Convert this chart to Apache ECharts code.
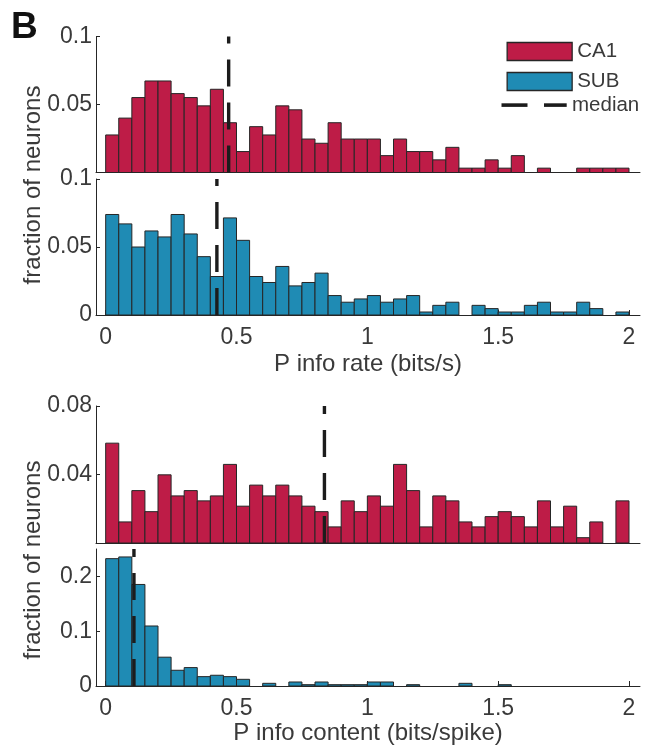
<!DOCTYPE html>
<html>
<head>
<meta charset="utf-8">
<script src="https://cdn.jsdelivr.net/npm/echarts@6/dist/echarts.min.js"></script>
<style>
  html, body { margin: 0; padding: 0; background: #fff; }
  #chart { width: 647px; height: 752px; }
</style>
</head>
<body>
<div id="chart"></div>
<script>
var chart = echarts.init(document.getElementById('chart'));

// histogram bins: 40 bins of 0.05 from 0 to 2
var binStart = 0;
var binWidth = 0.05;

var ca1Rate = [0.0276, 0.040, 0.0551, 0.0673, 0.0673, 0.058, 0.0551, 0.049, 0.0612, 0.0366,
  0.0154, 0.0337, 0.0276, 0.049, 0.0461, 0.0246, 0.0215, 0.0366, 0.0246, 0.0246,
  0.0246, 0.0124, 0.0246, 0.0154, 0.0154, 0.0093, 0.0185, 0.0032, 0.0032, 0.0093,
  0.0032, 0.0124, 0, 0.0032, 0, 0, 0.0032, 0.0032, 0.0032, 0.0032];

var subRate = [0.0739, 0.067, 0.050, 0.0618, 0.0574, 0.0739, 0.0596, 0.0429, 0.0283, 0.0714,
  0.0549, 0.0283, 0.0239, 0.0357, 0.0214, 0.0239, 0.0308, 0.0143, 0.0094, 0.0118,
  0.0143, 0.0094, 0.0118, 0.0143, 0.0022, 0.0071, 0.0094, 0, 0.0071, 0.0047,
  0.0022, 0.0022, 0.0071, 0.0094, 0.0022, 0.0022, 0.0094, 0.0047, 0, 0.0022];

var ca1Content = [0.0583, 0.0123, 0.0306, 0.0183, 0.0398, 0.0275, 0.0306, 0.0246, 0.0275, 0.0459,
  0.0215, 0.0338, 0.0275, 0.0338, 0.0275, 0.0215, 0.0183, 0.0094, 0.0246, 0.0183,
  0.0275, 0.0215, 0.0459, 0.0306, 0.0094, 0.0275, 0.0246, 0.0123, 0.0094, 0.0154,
  0.0183, 0.0154, 0.0094, 0.0246, 0.0094, 0.0215, 0.0031, 0.0123, 0, 0.0246];

var subContent = [0.2324, 0.2355, 0.1853, 0.1095, 0.0526, 0.0287, 0.0336, 0.0171, 0.0196, 0.0171,
  0.0122, 0, 0.0049, 0, 0.0073, 0.0024, 0.0073, 0.0024, 0.0024, 0.0024,
  0.0073, 0.0073, 0, 0.0024, 0, 0, 0, 0.0049, 0, 0,
  0.0024, 0, 0, 0, 0, 0, 0, 0, 0, 0];

// medians, one per panel (top to bottom)
var medians = [0.47, 0.425, 0.836, 0.108];
var yMax = [0.1, 0.1, 0.08, 0.25];
var yTicks = [[0.05, 0.1], [0, 0.05, 0.1], [0.04, 0.08], [0, 0.1, 0.2]];
var xTicks = [0, 0.5, 1, 1.5, 2];

var CA1_COLOR = '#BE1C47';
var SUB_COLOR = '#1F8BB4';
var EDGE = '#262626';
var TEXT = '#3a3a3a';
var FONT = 'Liberation Sans';

function toBins(values) {
  return values.map(function (v, i) {
    return [binStart + i * binWidth, binStart + (i + 1) * binWidth, v];
  });
}

function renderBar(params, api) {
  var h = api.value(2);
  if (!h) return null;
  var lo = api.coord([api.value(0), 0]);
  var hi = api.coord([api.value(1), h]);
  return {
    type: 'rect',
    shape: { x: lo[0], y: hi[1], width: hi[0] - lo[0], height: lo[1] - hi[1] },
    style: { fill: api.visual('color'), stroke: EDGE, lineWidth: 1 }
  };
}

var grids = [
  { left: 96, right: 7, top: 36.5, height: 136 },
  { left: 96, right: 7, top: 179, height: 136 },
  { left: 96, right: 7, top: 406, height: 137 },
  { left: 96, right: 7, top: 549, height: 137 }
];

var xNames = ['', 'P info rate (bits/s)', '', 'P info content (bits/spike)'];
var xNameGap = [0, 37, 0, 35];

var xAxes = grids.map(function (g, i) {
  var bottom = (i === 1 || i === 3);
  return {
    gridIndex: i,
    type: 'value',
    min: -0.037,
    max: 2.042,
    name: xNames[i],
    nameLocation: 'middle',
    nameGap: xNameGap[i],
    nameTextStyle: { fontSize: 24, color: TEXT, fontFamily: FONT },
    axisLine: { show: true, onZero: false, lineStyle: { color: EDGE, width: 1 } },
    axisTick: { show: bottom, inside: true, length: 5, customValues: xTicks, lineStyle: { color: EDGE } },
    axisLabel: { show: bottom, customValues: xTicks, fontSize: 23, color: TEXT, fontFamily: FONT, margin: 11 },
    splitLine: { show: false }
  };
});

var yAxes = grids.map(function (g, i) {
  return {
    gridIndex: i,
    type: 'value',
    min: 0,
    max: yMax[i],
    axisLine: { show: true, onZero: false, lineStyle: { color: EDGE, width: 1 } },
    axisTick: { show: true, inside: true, length: 4, customValues: yTicks[i], lineStyle: { color: EDGE } },
    axisLabel: { customValues: yTicks[i], fontSize: 23, color: TEXT, fontFamily: FONT, margin: 4 },
    splitLine: { show: false }
  };
});

var panels = [
  { name: 'CA1', data: ca1Rate, color: CA1_COLOR },
  { name: 'SUB', data: subRate, color: SUB_COLOR },
  { name: 'CA1', data: ca1Content, color: CA1_COLOR },
  { name: 'SUB', data: subContent, color: SUB_COLOR }
];

var series = [];
panels.forEach(function (p, i) {
  series.push({
    name: p.name,
    type: 'custom',
    xAxisIndex: i,
    yAxisIndex: i,
    renderItem: renderBar,
    encode: { x: [0, 1], y: 2 },
    itemStyle: { color: p.color },
    data: toBins(p.data),
    silent: true,
    z: 2
  });
  series.push({
    name: 'median',
    type: 'line',
    xAxisIndex: i,
    yAxisIndex: i,
    data: [[medians[i], 0], [medians[i], yMax[i]]],
    showSymbol: false,
    symbol: 'none',
    silent: true,
    lineStyle: { color: '#1c1c1c', width: 3.4, type: [27, 16] },
    z: 5
  });
});

var option = {
  backgroundColor: '#fff',
  animation: false,
  grid: grids,
  xAxis: xAxes,
  yAxis: yAxes,
  legend: {
    orient: 'vertical',
    left: 501.5,
    top: 36,
    itemWidth: 65,
    itemHeight: 18,
    itemGap: 9,
    selectedMode: false,
    textStyle: { fontSize: 20.5, color: TEXT, fontFamily: FONT },
    data: [
      { name: 'CA1', icon: 'rect', itemStyle: { color: CA1_COLOR, borderColor: EDGE, borderWidth: 1.3 } },
      { name: 'SUB', icon: 'rect', itemStyle: { color: SUB_COLOR, borderColor: EDGE, borderWidth: 1.3 } }
    ]
  },
  graphic: [
    { type: 'text', left: 11, top: 9, style: { text: 'B', fontSize: 37, fontWeight: 'bold', fill: '#111', fontFamily: FONT } },
    { type: 'text', x: 33, y: 185, rotation: Math.PI / 2,
      style: { text: 'fraction of neurons', fontSize: 24, fill: TEXT, fontFamily: FONT, align: 'center', verticalAlign: 'middle' } },
    { type: 'text', x: 33, y: 560, rotation: Math.PI / 2,
      style: { text: 'fraction of neurons', fontSize: 24, fill: TEXT, fontFamily: FONT, align: 'center', verticalAlign: 'middle' } },
    // median legend entry
    { type: 'rect', shape: { x: 501.5, y: 103.3, width: 26, height: 3.6 }, style: { fill: '#1c1c1c' } },
    { type: 'rect', shape: { x: 544, y: 103.3, width: 22.7, height: 3.6 }, style: { fill: '#1c1c1c' } },
    { type: 'text', x: 572, y: 105, style: { text: 'median', fontSize: 20.5, fill: TEXT, fontFamily: FONT, verticalAlign: 'middle' } }
  ],
  series: series
};

chart.setOption(option);
</script>
</body>
</html>
